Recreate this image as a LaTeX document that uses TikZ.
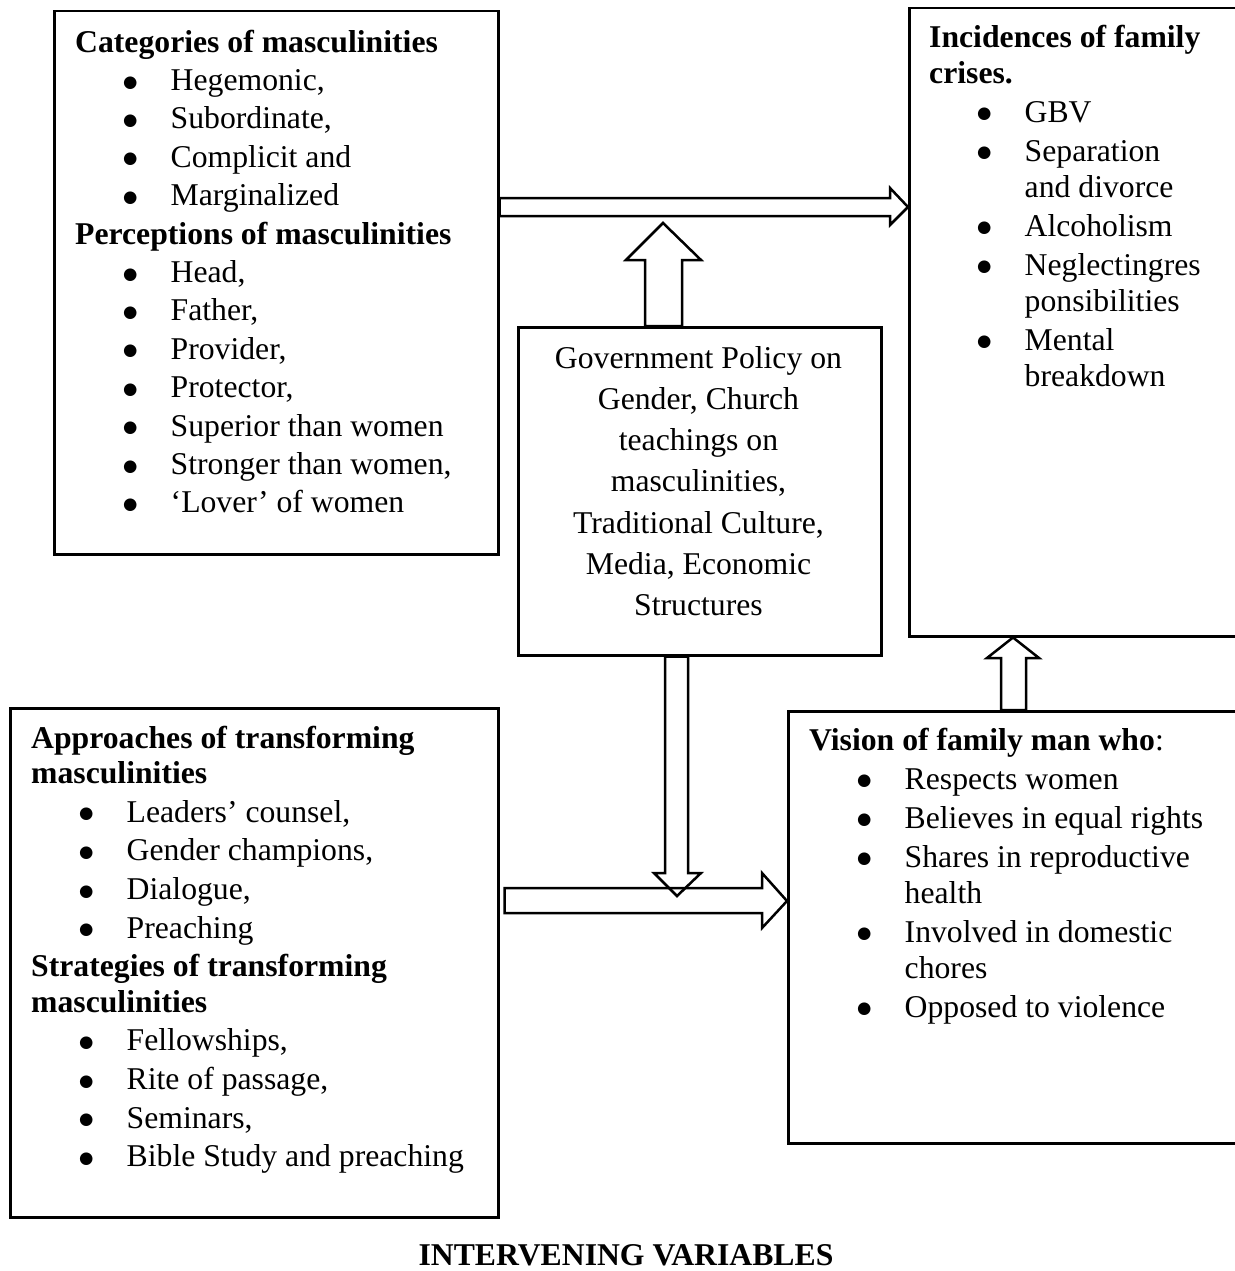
\documentclass[tikz,border=0pt]{standalone}
\usepackage{fontspec}
\setmainfont{Liberation Serif}
\newfontfamily\dotfont{DejaVu Sans}

\newcommand{\itm}[1]{\hspace*{48pt}\makebox[47.5pt][l]{\raisebox{3.5pt}{\dotfont\fontsize{16.5}{16.5}\selectfont ●}}#1}
\newcommand{\cnt}[1]{\hspace*{95.5pt}#1}

\begin{document}
\begin{tikzpicture}[x=1pt,y=-1pt,
 box node/.style={draw,line width=2.5pt,inner sep=0pt,anchor=north west},
 list node/.style={inner sep=0pt,anchor=north west,align=left},
 block arrow/.style={draw,line width=2.5pt,line join=miter}]

  \useasboundingbox (0,0) rectangle (1234,1271);

  % boxes
  \node[box node,minimum width=444pt,minimum height=543pt] (cat) at (53,10) {};
  \node[box node,minimum width=340pt,minimum height=628pt] (inc) at (908,7) {};
  \node[box node,minimum width=363pt,minimum height=328pt] (gov) at (517,326) {};
  \node[box node,minimum width=488pt,minimum height=509pt] (appr) at (9,707) {};
  \node[box node,minimum width=460pt,minimum height=432pt] (vis) at (787,710) {};

  % texts
  \node[list node,font=\fontsize{31.7}{38.4}\selectfont] (catTxt) at (75,25.1)
    {\strut\textbf{Categories of masculinities}\\
     \itm{Hegemonic,}\\ \itm{Subordinate,}\\ \itm{Complicit and}\\ \itm{Marginalized}\\
     \textbf{Perceptions of masculinities}\\
     \itm{Head,}\\ \itm{Father,}\\ \itm{Provider,}\\ \itm{Protector,}\\
     \itm{Superior than women}\\ \itm{Stronger than women,}\\ \itm{‘Lover’ of women}};

  \node[list node,font=\fontsize{31.7}{39}\selectfont] (incTxt) at (929,19.7)
    {\strut\textbf{Incidences of family}\\[-3pt]
     \textbf{crises.}\\
     \itm{GBV}\\ \itm{Separation}\\[-3pt] \cnt{and divorce}\\ \itm{Alcoholism}\\
     \itm{Neglectingres}\\[-3pt] \cnt{ponsibilities}\\ \itm{Mental}\\[-3pt] \cnt{breakdown}};

  \node[inner sep=0pt,anchor=north,align=center,font=\fontsize{31.7}{41.2}\selectfont]
    (govTxt) at (698.5,339.2)
    {\strut Government Policy on\\ Gender, Church\\ teachings on\\ masculinities,\\
     Traditional Culture,\\ Media, Economic\\ Structures};

  \node[list node,font=\fontsize{31.7}{38.7}\selectfont] (apprTxt) at (31,720.9)
    {\strut\textbf{Approaches of transforming}\\[-3.5pt]
     \textbf{masculinities}\\
     \itm{Leaders’ counsel,}\\ \itm{Gender champions,}\\ \itm{Dialogue,}\\ \itm{Preaching}\\
     \textbf{Strategies of transforming}\\[-3.5pt]
     \textbf{masculinities}\\
     \itm{Fellowships,}\\ \itm{Rite of passage,}\\ \itm{Seminars,}\\ \itm{Bible Study and preaching}};

  \node[list node,font=\fontsize{31.7}{39}\selectfont] (visTxt) at (809,722.7)
    {\strut\textbf{Vision of family man who}:\\
     \itm{Respects women}\\ \itm{Believes in equal rights}\\
     \itm{Shares in reproductive}\\[-3pt] \cnt{health}\\
     \itm{Involved in domestic}\\[-3pt] \cnt{chores}\\ \itm{Opposed to violence}};

  \node[inner sep=0pt,anchor=base,font=\fontsize{31.7}{38}\selectfont\bfseries] (title) at (626,1265)
    {INTERVENING VARIABLES};

  % block arrows
  \coordinate (govTip) at (663,223);
  \coordinate (apprEnd) at ([xshift=5pt]appr.east);

  \draw[block arrow] (cat.east |- 0,198) -- (890,198) -- (890,188) -- (inc.west |- 0,207)
     -- (890,225) -- (890,216) -- (cat.east |- 0,216) -- cycle;
  \draw[block arrow] (gov.north -| 645,0) -- (645,260) -- (626,260) -- (govTip)
     -- (701,260) -- (682,260) -- (gov.north -| 682,0) -- cycle;
  \draw[block arrow] (gov.south -| 665,0) -- (665,873) -- (654,873) -- (677,896)
     -- (701,873) -- (688,873) -- (gov.south -| 688,0) -- cycle;
  \draw[block arrow] (apprEnd |- 0,888) -- (762,888) -- (762,873) -- (vis.west |- 0,901)
     -- (762,928) -- (762,913) -- (apprEnd |- 0,913) -- cycle;
  \draw[block arrow] (vis.north -| 1001,0) -- (1001,658) -- (987,658) -- (inc.south -| 1013,0)
     -- (1039,658) -- (1026,658) -- (vis.north -| 1026,0) -- cycle;
\end{tikzpicture}
\end{document}
